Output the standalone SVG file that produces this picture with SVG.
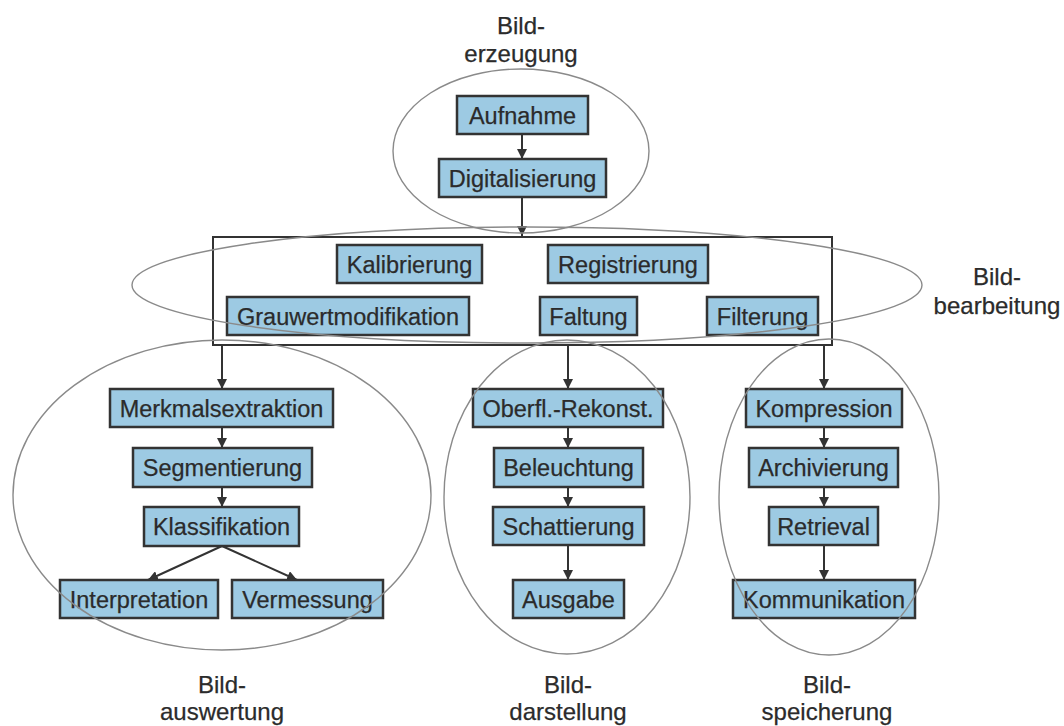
<svg xmlns="http://www.w3.org/2000/svg" width="1064" height="726" viewBox="0 0 1064 726">
  <style>
    .box { fill: #9dcae3; stroke: #333; stroke-width: 2.5; }
    .lbl { font-family: "Liberation Sans", Arial, sans-serif; font-size: 23.5px; fill: #2b2b2b; stroke: #2b2b2b; stroke-width: 0.25; text-anchor: middle; }
    .cap { font-family: "Liberation Sans", Arial, sans-serif; font-size: 24px; fill: #2b2b2b; stroke: #2b2b2b; stroke-width: 0.25; text-anchor: middle; }
    .edge { stroke: #333; stroke-width: 2; fill: none; marker-end: url(#arrow); }
    .zone { fill: none; stroke: #8a8a8a; stroke-width: 1.4; }
    .frame { fill: none; stroke: #333; stroke-width: 2; }
  </style>
  <defs>
    <marker id="arrow" viewBox="0 0 10 10" refX="10" refY="5" markerWidth="5" markerHeight="5" orient="auto" markerUnits="strokeWidth">
      <path d="M0,0 L10,5 L0,10 z" fill="#333"/>
    </marker>
  </defs>
  <rect width="1064" height="726" fill="#fff"/>

  <!-- processing frame -->
  <rect class="frame" x="213" y="237" width="619" height="108"/>

  <!-- connectors -->
  <g id="connectors">
    <line class="edge" x1="522" y1="134" x2="522" y2="159"/>
    <line class="edge" x1="522" y1="197" x2="522" y2="236"/>
    <line class="edge" x1="222" y1="345" x2="222" y2="389"/>
    <line class="edge" x1="568" y1="345" x2="568" y2="389"/>
    <line class="edge" x1="824" y1="345" x2="824" y2="389"/>
    <line class="edge" x1="222" y1="427" x2="222" y2="448"/>
    <line class="edge" x1="222" y1="487" x2="222" y2="507"/>
    <line class="edge" x1="222" y1="546" x2="148" y2="580"/>
    <line class="edge" x1="222" y1="546" x2="297" y2="580"/>
    <line class="edge" x1="568" y1="427" x2="568" y2="448"/>
    <line class="edge" x1="568" y1="487" x2="568" y2="507"/>
    <line class="edge" x1="568" y1="545" x2="568" y2="580"/>
    <line class="edge" x1="824" y1="427" x2="824" y2="448"/>
    <line class="edge" x1="824" y1="487" x2="824" y2="507"/>
    <line class="edge" x1="824" y1="545" x2="824" y2="580"/>
  </g>

  <!-- Bilderzeugung -->
  <g id="aufnahme"><rect class="box" x="457" y="96" width="131" height="38"/><text class="lbl" x="522.5" y="124">Aufnahme</text></g>
  <g id="digitalisierung"><rect class="box" x="439" y="159" width="167" height="38"/><text class="lbl" x="522.5" y="187">Digitalisierung</text></g>

  <!-- Bildbearbeitung -->
  <g id="kalibrierung"><rect class="box" x="337" y="245" width="145" height="38"/><text class="lbl" x="409.5" y="273">Kalibrierung</text></g>
  <g id="registrierung"><rect class="box" x="548" y="245" width="160" height="38"/><text class="lbl" x="628" y="273">Registrierung</text></g>
  <g id="grauwertmodifikation"><rect class="box" x="227" y="297" width="242" height="38"/><text class="lbl" x="348" y="325">Grauwertmodifikation</text></g>
  <g id="faltung"><rect class="box" x="540" y="297" width="97" height="38"/><text class="lbl" x="588.5" y="325">Faltung</text></g>
  <g id="filterung"><rect class="box" x="707" y="297" width="111" height="38"/><text class="lbl" x="762.5" y="325">Filterung</text></g>

  <!-- Bildauswertung -->
  <g id="merkmalsextraktion"><rect class="box" x="110" y="389" width="223" height="38"/><text class="lbl" x="221.5" y="417">Merkmalsextraktion</text></g>
  <g id="segmentierung"><rect class="box" x="133" y="448" width="179" height="39"/><text class="lbl" x="222.5" y="476">Segmentierung</text></g>
  <g id="klassifikation"><rect class="box" x="144" y="507" width="155" height="39"/><text class="lbl" x="221.5" y="535">Klassifikation</text></g>
  <g id="interpretation"><rect class="box" x="60" y="580" width="158" height="38"/><text class="lbl" x="139" y="608">Interpretation</text></g>
  <g id="vermessung"><rect class="box" x="232" y="580" width="151" height="38"/><text class="lbl" x="307.5" y="608">Vermessung</text></g>

  <!-- Bilddarstellung -->
  <g id="oberflaechenrekonstruktion"><rect class="box" x="473" y="389" width="190" height="38"/><text class="lbl" x="568" y="417">Oberfl.-Rekonst.</text></g>
  <g id="beleuchtung"><rect class="box" x="494" y="448" width="149" height="39"/><text class="lbl" x="568.5" y="476">Beleuchtung</text></g>
  <g id="schattierung"><rect class="box" x="493" y="507" width="151" height="38"/><text class="lbl" x="568.5" y="535">Schattierung</text></g>
  <g id="ausgabe"><rect class="box" x="513" y="580" width="111" height="38"/><text class="lbl" x="568.5" y="608">Ausgabe</text></g>

  <!-- Bildspeicherung -->
  <g id="kompression"><rect class="box" x="746" y="389" width="156" height="38"/><text class="lbl" x="824" y="417">Kompression</text></g>
  <g id="archivierung"><rect class="box" x="749" y="448" width="149" height="39"/><text class="lbl" x="823.5" y="476">Archivierung</text></g>
  <g id="retrieval"><rect class="box" x="769" y="507" width="109" height="38"/><text class="lbl" x="823.5" y="535">Retrieval</text></g>
  <g id="kommunikation"><rect class="box" x="733" y="580" width="182" height="38"/><text class="lbl" x="824" y="608">Kommunikation</text></g>

  <!-- stage outlines -->
  <g id="stages">
    <ellipse class="zone" cx="521" cy="151" rx="128" ry="82"/>
    <ellipse class="zone" cx="527" cy="285" rx="395" ry="58"/>
    <ellipse class="zone" cx="222" cy="495" rx="209" ry="155"/>
    <ellipse class="zone" cx="567" cy="497" rx="123" ry="157"/>
    <ellipse class="zone" cx="829" cy="497" rx="110" ry="158"/>
  </g>

  <!-- stage captions -->
  <g id="captions">
    <text class="cap" x="521" y="34">Bild-</text>
    <text class="cap" x="521" y="62">erzeugung</text>
    <text class="cap" x="997" y="285">Bild-</text>
    <text class="cap" x="997" y="314">bearbeitung</text>
    <text class="cap" x="222" y="693">Bild-</text>
    <text class="cap" x="222" y="720">auswertung</text>
    <text class="cap" x="568" y="693">Bild-</text>
    <text class="cap" x="568" y="720">darstellung</text>
    <text class="cap" x="827" y="693">Bild-</text>
    <text class="cap" x="827" y="720">speicherung</text>
  </g>
</svg>
